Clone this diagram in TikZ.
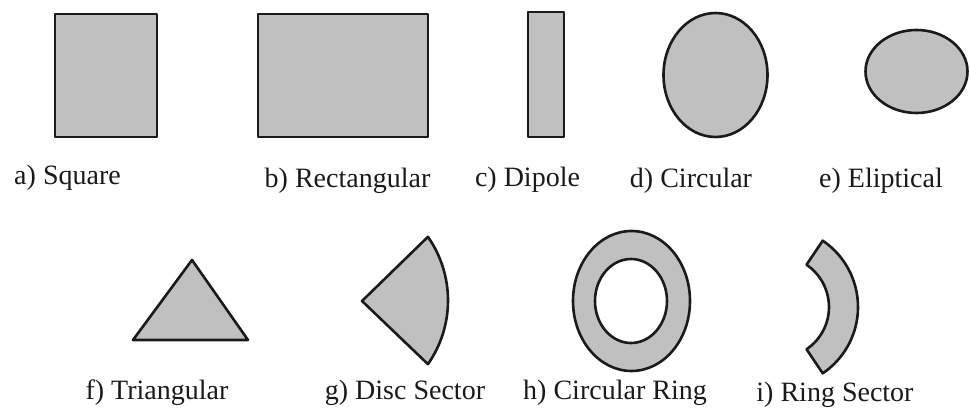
\documentclass[tikz,border=0pt]{standalone}
\usepackage{fontspec}
\setmainfont{Liberation Serif}
\newfontfamily\capfont{Liberation Serif}
\definecolor{patchfill}{HTML}{C0C0C0}
\definecolor{patchline}{HTML}{1A1A1A}
\definecolor{labeltext}{HTML}{1A1A1A}
\begin{document}
\begin{tikzpicture}[x=1pt,y=1pt,
  patch/.style={fill=patchfill,draw=patchline,line width=2.6pt,line join=round},
  caption/.style={anchor=base,inner sep=0pt,text=labeltext,font=\capfont\fontsize{28}{30}\selectfont}]
\fill[white] (0,0) rectangle (970,412);
\useasboundingbox (0,0) rectangle (970,412);
% row 1
\draw[patch] (55,275) rectangle (157,398);
\draw[patch] (258,275) rectangle (428,398);
\draw[patch] (528,275) rectangle (564,400);
\draw[patch] (715.5,337) ellipse [x radius=52pt, y radius=62pt];
\draw[patch] (916.5,340.5) ellipse [x radius=51pt, y radius=41.5pt];
% row 2
\draw[patch] (133,72) -- (248,72) -- (192,152) -- cycle;
\coordinate (gc) at (337,111.5);
\draw[patch] (362,111) -- ([shift={(35:111pt)}]gc) arc[start angle=35,end angle=-35,radius=111pt] -- cycle;
\draw[patch,even odd rule] (631.5,111) ellipse [x radius=58.5pt, y radius=70pt]
  (631,111) ellipse [x radius=36pt, y radius=42pt];
\coordinate (ic) at (778,105);
\draw[patch] ([shift={(56:80pt)}]ic) arc[start angle=56,end angle=-56,radius=80pt]
  -- ([shift={(-56:51pt)}]ic) arc[start angle=-56,end angle=56,radius=51pt] -- cycle;
% labels
\node[caption] (la) at (67.5,227) {a) Square};
\node[caption] (lb) at (347.5,224) {b) Rectangular};
\node[caption] (lc) at (527.5,225) {c) Dipole};
\node[caption] (ld) at (691,224) {d) Circular};
\node[caption] (le) at (881,224) {e) Eliptical};
\node[caption] (lf) at (157,12) {f) Triangular};
\node[caption] (lg) at (405,12) {g) Disc Sector};
\node[caption] (lh) at (615,12) {h) Circular Ring};
\node[caption] (li) at (835,10) {i) Ring Sector};
\end{tikzpicture}
\end{document}
